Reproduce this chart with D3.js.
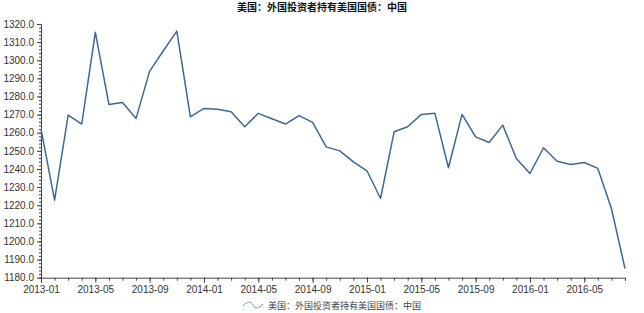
<!DOCTYPE html>
<html>
<head>
<meta charset="utf-8">
<script src="https://cdn.jsdelivr.net/npm/d3@7"></script>
<style>
  body { margin: 0; background: #fff; }
  svg { display: block; font-family: "Liberation Sans", Arial, sans-serif; }
</style>
</head>
<body>
<div id="chart"></div>
<script>
const title = '美国：外国投资者持有美国国债：中国'
const seriesName = '美国：外国投资者持有美国国债：中国'

// monthly, 2013-01 .. 2016-08 (billion USD)
const months = []
for (let y = 2013; y <= 2016; y++) {
  for (let m = 1; m <= 12; m++) {
    if (y === 2016 && m > 8) break
    months.push(`${y}-${String(m).padStart(2, '0')}`)
  }
}

const values = [
  1262.0, 1222.8, 1269.7, 1264.8, 1315.4, 1275.6, 1276.7, 1267.9, 1294.0, 1305.1, 1316.1, 1268.8,
  1273.4, 1272.9, 1271.6, 1263.3, 1270.7, 1267.7, 1264.8, 1269.4, 1265.7, 1252.2, 1250.0, 1243.9,
  1239.0, 1223.7, 1260.5, 1263.3, 1270.1, 1270.8, 1240.7, 1270.1, 1257.7, 1254.6, 1264.2, 1245.8,
  1237.5, 1251.7, 1244.3, 1242.5, 1243.6, 1240.3, 1218.2, 1185.0
]

const labelMonths = months.filter((d, i) => i % 4 === 0)
const yMajor = d3.range(1180, 1321, 10)
const yMinor = d3.range(1180, 1321, 2)

const width = 644
const height = 313
const margin = { top: 24, right: 19, bottom: 35.3, left: 41 }

const svg = d3.select('#chart')
  .append('svg')
  .attr('width', width)
  .attr('height', height)

const x = d3.scalePoint()
  .domain(months)
  .range([margin.left, width - margin.right])

const y = d3.scaleLinear()
  .domain([1180, 1320])
  .range([height - margin.bottom, margin.top])

// title
svg.append('text')
  .attr('x', 322)
  .attr('y', 11)
  .attr('text-anchor', 'middle')
  .style('font-size', '10px')
  .style('font-weight', 'bold')
  .style('font-family', '"Noto Sans CJK SC", sans-serif')
  .attr('fill', '#111')
  .text(title)

const axisColor = '#444'

// x axis: minor ticks every month, labels every 4 months
const xMinor = svg.append('g')
  .attr('transform', `translate(0, ${y(1180)})`)
  .call(d3.axisBottom(x).tickValues(months).tickSize(3).tickFormat(''))
const xMajor = svg.append('g')
  .attr('transform', `translate(0, ${y(1180)})`)
  .call(d3.axisBottom(x).tickValues(labelMonths).tickSize(5).tickPadding(3))
xMajor.select('.domain').remove()

// y axis
const yMinorG = svg.append('g')
  .attr('transform', `translate(${margin.left}, 0)`)
  .call(d3.axisLeft(y).tickValues(yMinor).tickSize(2).tickFormat(''))
const yMajorG = svg.append('g')
  .attr('transform', `translate(${margin.left}, 0)`)
  .call(d3.axisLeft(y).tickValues(yMajor).tickSize(4).tickPadding(3).tickFormat(d3.format('.1f')))
yMajorG.select('.domain').remove()

for (const g of [xMinor, xMajor, yMinorG, yMajorG]) {
  g.selectAll('.domain, line').attr('stroke', axisColor)
  g.selectAll('text')
    .attr('fill', '#333')
    .style('font-size', '10px')
}

// line
const line = d3.line()
  .x((d, i) => x(months[i]))
  .y(d => y(d))

svg.append('path')
  .datum(values)
  .attr('fill', 'none')
  .attr('stroke', '#3d6897')
  .attr('stroke-width', 1.5)
  .attr('stroke-linejoin', 'round')
  .attr('d', line)

// legend
const legend = svg.append('g')
  .attr('transform', 'translate(243, 305)')

legend.append('path')
  .attr('d', 'M0,1 C4,-4 8,-4 10,0 C12,4 16,4 20,-1')
  .attr('fill', 'none')
  .attr('stroke', '#7d97b8')
  .attr('stroke-width', 1)

legend.append('text')
  .attr('x', 25)
  .attr('y', 3.5)
  .style('font-size', '9px')
  .style('font-family', '"Noto Sans CJK SC", sans-serif')
  .attr('fill', '#444')
  .text(seriesName)
</script>
</body>
</html>
